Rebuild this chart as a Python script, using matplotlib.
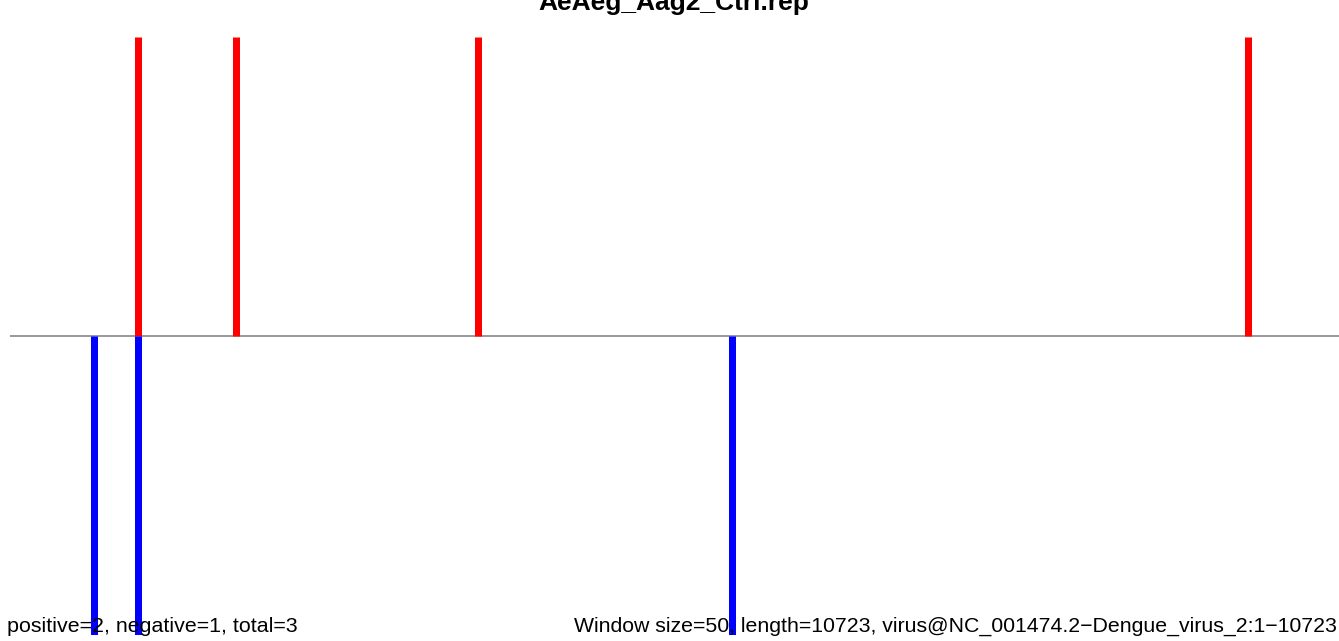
import matplotlib
matplotlib.use("Agg")
import matplotlib.pyplot as plt

plt.rcParams['font.family'] = ['Liberation Sans', 'DejaVu Sans']

title = "AeAeg_Aag2_Ctrl.rep"
genome_length = 10723
pos_positions = [1030, 1825, 3775, 9990]
pos_values = [1, 1, 1, 1]
neg_positions = [675, 1030, 5825]
neg_values = [-1, -1, -1]
left_label = "positive=2, negative=1, total=3"
right_label = "Window size=50, length=10723, virus@NC_001474.2\u2212Dengue_virus_2:1\u221210723"

W, H = 1339, 641
fig = plt.figure(figsize=(W / 100, H / 100), dpi=100)
ax = fig.add_axes([10 / W, (H - 635) / H, (W - 10) / W, (635 - 37) / H])
ax.set_xlim(0, genome_length)
ax.set_ylim(-1, 1)
ax.axis('off')

ax.axhline(0, color='#999999', lw=1.4, zorder=1)
lw = 7 * 72 / 100
ax.vlines(pos_positions, 0, pos_values, colors='#ff0000', lw=lw, capstyle='butt', zorder=2)
ax.vlines(neg_positions, 0, neg_values, colors='#0000ff', lw=lw, capstyle='butt', zorder=2)

fig.text(674 / W, 1 - 10 / H, title, ha='center', va='baseline',
         fontsize=19, fontweight='bold')
fig.text(7 / W, 1 - 632 / H, left_label, ha='left', va='baseline', fontsize=15.4)
fig.text(1337 / W, 1 - 632 / H, right_label, ha='right', va='baseline', fontsize=15.3)

fig.savefig("out.png", dpi=100)
